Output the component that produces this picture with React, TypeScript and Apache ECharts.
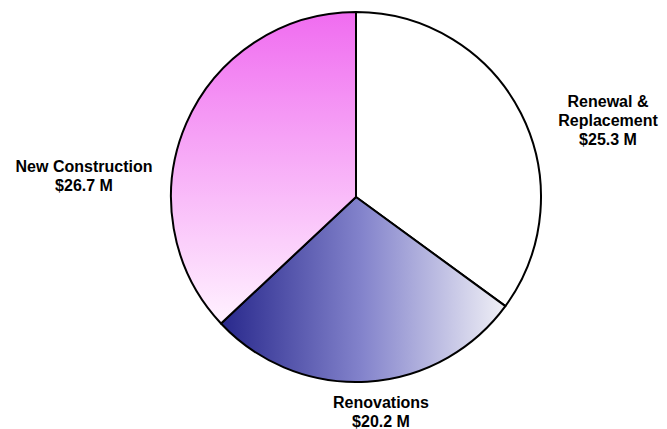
import React, { useEffect, useRef } from "react";
import * as echarts from "echarts";

const categories = ["Renewal & Replacement", "Renovations", "New Construction"];
const values = [25.3, 20.2, 26.7];
const labelTexts = ["Renewal &\nReplacement\n$25.3 M", "Renovations\n$20.2 M", "New Construction\n$26.7 M"];
const labelPos = [
  [608, 120],
  [381, 412],
  [84, 176],
];

export default function App() {
  const ref = useRef<HTMLDivElement>(null);
  useEffect(() => {
    document.body.style.margin = "0";
    const chart = echarts.init(ref.current!, null, { renderer: "svg" });
    const colors: any[] = [
      "#ffffff",
      new echarts.graphic.LinearGradient(0, 0, 1, 0, [
        { offset: 0, color: "#28288c" },
        { offset: 0.5, color: "#8484cc" },
        { offset: 1, color: "#f0f0f6" },
      ]),
      new echarts.graphic.LinearGradient(0, 0, 0, 1, [
        { offset: 0, color: "#f06cf0" },
        { offset: 1, color: "#fff2ff" },
      ]),
    ];
    chart.setOption({
      animation: false,
      backgroundColor: "#ffffff",
      series: [
        {
          type: "pie",
          center: [356, 197],
          radius: 185,
          startAngle: 90,
          clockwise: true,
          avoidLabelOverlap: false,
          itemStyle: { borderColor: "#000000", borderWidth: 2 },
          emphasis: { disabled: true },
          label: {
            show: true,
            position: "outside",
            fontFamily: "Liberation Sans, Arial, sans-serif",
            fontWeight: "bold",
            fontSize: 16,
            lineHeight: 19,
            color: "#000000",
            align: "center",
            formatter: (p: any) => labelTexts[p.dataIndex],
          },
          labelLine: { show: false },
          labelLayout: (p: any) => ({
            x: labelPos[p.dataIndex][0],
            y: labelPos[p.dataIndex][1],
            align: "center",
            verticalAlign: "middle",
          }),
          data: categories.map((c, i) => ({
            name: c,
            value: values[i],
            itemStyle: { color: colors[i] },
          })),
        },
      ],
    });
    return () => chart.dispose();
  }, []);
  return <div ref={ref} style={{ width: 667, height: 429 }} />;
}
